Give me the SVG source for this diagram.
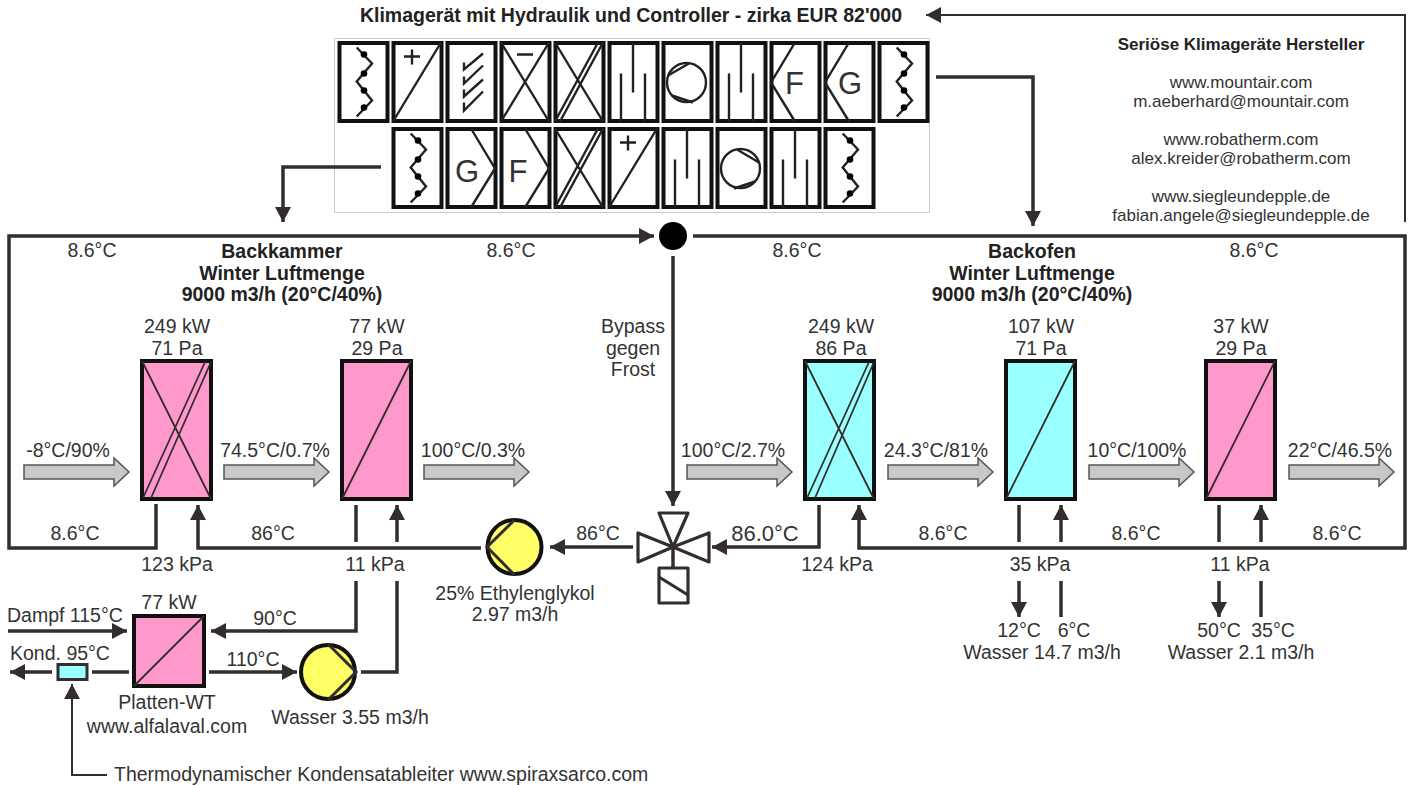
<svg xmlns="http://www.w3.org/2000/svg" xmlns:xlink="http://www.w3.org/1999/xlink" width="1413" height="785" viewBox="0 0 1413 785">
<style>
text{font-family:"Liberation Sans",Arial,sans-serif;font-size:19.5px;fill:#333;text-anchor:middle}
.b{font-weight:bold;fill:#222}
text.s{font-size:17px}
.l{text-anchor:start}
.cell{fill:#fff;stroke:#111;stroke-width:4}
.t{fill:none;stroke:#222;stroke-width:2.4}
text.big{font-size:31px;fill:#333}
text.w{font-size:22px}
.p{fill:none;stroke:#332e2b;stroke-width:3.5}
.thin{fill:none;stroke:#332e2b;stroke-width:2}
.hx{stroke:#111;stroke-width:4}
.pink{fill:#ff99cc}.cyan{fill:#99ffff}
.d{fill:none;stroke:#332e2b;stroke-width:1.8}
.air{fill:#c8c8c8;stroke:#555;stroke-width:1.5}
.pump{fill:#ffff66;stroke:#111;stroke-width:4}
.chev{fill:none;stroke:#332e2b;stroke-width:3}
.v{fill:#fff;stroke:#332e2b;stroke-width:3.2;stroke-linejoin:round}
</style>
<defs>
<marker id="a" markerUnits="userSpaceOnUse" markerWidth="16" markerHeight="16" refX="15" refY="8" orient="auto"><path d="M0 0L15 8L0 16Z" fill="#332e2b"/></marker>
<path id="air" d="M0-7H90V-14L105 0L90 14V7H0Z"/>
<g id="c"><rect class="cell" x="1.500" y="1.500" width="48" height="78"/></g>
<g id="zig"><use href="#c"/><path class="t" d="M18.700 6L34 22L18.700 40L34 59L18.700 75"/><circle cx="26" cy="13" r="3.300"/><circle cx="26" cy="32" r="3.300"/><circle cx="26" cy="49" r="3.300"/><circle cx="26" cy="66" r="3.300"/></g>
<g id="plus"><use href="#c"/><path class="t" d="M1 80L49 1M20 8V23M12 15H28"/></g>
<g id="filter"><use href="#c"/><path class="t" d="M18 21V28L37 12M18 35V42L37 24M18 48V55L37 38M18 61V69L37 50"/></g>
<g id="minus"><use href="#c"/><path class="t" d="M1 1L49 80M1 80L49 1M17 13H33"/></g>
<g id="xx"><use href="#c"/><path class="t" d="M1 1L49 80M1 80L44 1M6 80L49 1"/></g>
<g id="fin"><use href="#c"/><path class="t" d="M13 32V80M37 32V80M25 1V51"/></g>
<g id="pmp"><use href="#c"/><circle class="t" cx="24.500" cy="41" r="19.500"/><path class="t" d="M27 22L6 34M10 54L31 61"/></g>
<g id="pmp2"><use href="#c"/><circle class="t" cx="24.500" cy="41" r="19.500"/><path class="t" d="M21 22L43 35M39 54L18 61"/></g>
<g id="fl"><use href="#c"/><path class="t" d="M25 1L1 41L25 80"/></g>
<g id="fr"><use href="#c"/><path class="t" d="M25 1L49 41L25 80"/></g>
</defs>
<rect x="334.500" y="38.500" width="595" height="174" fill="#fff" stroke="#ccc"/>
<g id="ahu-top">
<use href="#zig" x="338" y="41.500"/><use href="#plus" x="392" y="41.500"/><use href="#filter" x="446" y="41.500"/><use href="#minus" x="500" y="41.500"/><use href="#xx" x="554" y="41.500"/><use href="#fin" x="608" y="41.500"/><use href="#pmp" x="662" y="41.500"/><use href="#fin" x="716" y="41.500"/><use href="#fl" x="770" y="41.500"/><use href="#fl" x="824" y="41.500"/><use href="#zig" x="878" y="41.500"/>
<text class="big" x="794.500" y="93.500">F</text><text class="big" x="850" y="93.500">G</text>
</g>
<g id="ahu-bottom">
<use href="#zig" x="392" y="127.500"/><use href="#fr" x="446" y="127.500"/><use href="#fr" x="500" y="127.500"/><use href="#xx" x="554" y="127.500"/><use href="#plus" x="608" y="127.500"/><use href="#fin" x="662" y="127.500"/><use href="#pmp2" x="716" y="127.500"/><use href="#fin" x="770" y="127.500"/><use href="#zig" x="824" y="127.500"/>
<text class="big" x="467" y="181.500">G</text><text class="big" x="518" y="181.500">F</text>
</g>
<g id="connectors">
<path class="thin" d="M1405 222V15H926" marker-end="url(#a)"/>
<path class="p" d="M936 77H1033V226" marker-end="url(#a)"/>
<path class="p" d="M381 167H283V222" marker-end="url(#a)"/>
<path class="p" d="M156 504V548H9V236H654" marker-end="url(#a)"/>
<path class="p" d="M693 236H1405V548H859V505" marker-end="url(#a)"/>
<path class="p" d="M673 256V506" marker-end="url(#a)"/>
<path class="p" d="M481 548H198V505" marker-end="url(#a)"/>
<path class="p" d="M633 547H550" marker-end="url(#a)"/>
<path class="p" d="M819 505V547H712" marker-end="url(#a)"/>
<path class="p" d="M356 505V542M1019 505V542M1219 505V542"/>
<path class="p" d="M397 542V505" marker-end="url(#a)"/>
<path class="p" d="M1061 542V505" marker-end="url(#a)"/>
<path class="p" d="M1261 542V505" marker-end="url(#a)"/>
<path class="p" d="M356 581V631H211" marker-end="url(#a)"/>
<path class="p" d="M397 581V672H361"/>
<path class="p" d="M8 631H127" marker-end="url(#a)"/>
<path class="p" d="M209 672H297" marker-end="url(#a)"/>
<path class="p" d="M129 672H92"/>
<path class="p" d="M52 672H10" marker-end="url(#a)"/>
<path class="thin" d="M107 775H72V684" marker-end="url(#a)"/>
<path class="p" d="M1019 581V617" marker-end="url(#a)"/>
<path class="p" d="M1219 581V617" marker-end="url(#a)"/>
<path class="p" d="M1061 581V617M1261 581V617"/>
</g>
<g id="junction"><circle cx="673" cy="236" r="14" fill="#000"/></g>
<g id="hx1"><rect class="hx pink" x="142" y="361" width="69" height="138"/><path class="d" d="M142 361L211 499M143 498L205 362M151 498L211 362"/></g>
<g id="hx2"><rect class="hx pink" x="342" y="361" width="69" height="138"/><path class="d" d="M342 499L411 361"/></g>
<g id="hx3"><rect class="hx cyan" x="805" y="361" width="69" height="138"/><path class="d" d="M805 361L874 499M807 498L869 362M815 498L874 362"/></g>
<g id="hx4"><rect class="hx cyan" x="1006" y="361" width="69" height="138"/><path class="d" d="M1006 499L1075 361"/></g>
<g id="hx5"><rect class="hx pink" x="1206" y="361" width="69" height="138"/><path class="d" d="M1206 499L1275 361"/></g>
<g id="plate"><rect class="hx pink" x="134" y="616" width="70" height="70"/><path class="d" d="M134 686L204 616"/></g>
<g id="trap"><rect x="58" y="664.500" width="29" height="15" fill="#99ffff" stroke="#332e2b" stroke-width="3"/></g>
<g id="pump1"><circle class="pump" cx="514.500" cy="547" r="27"/><path class="chev" d="M514.500 520L487 547L514.500 575"/></g>
<g id="pump2"><circle class="pump" cx="328" cy="672" r="27"/><path class="chev" d="M328 644L356 672L328 700"/></g>
<g id="valve"><path class="v" d="M659 513H688L673 547ZM638 533V562L673 547ZM709 533V562L673 547Z"/><path class="p" d="M673 547V568" stroke-width="3"/><rect class="v" x="659" y="568" width="29" height="35"/><path class="v" d="M659 577L688 595"/></g>
<g id="air-arrows" class="air"><use href="#air" x="24" y="472"/><use href="#air" x="224" y="472"/><use href="#air" x="424" y="472"/><use href="#air" x="687" y="472"/><use href="#air" x="888" y="472"/><use href="#air" x="1089" y="472"/><use href="#air" x="1289" y="472"/></g>
<g id="labels">
<text class="b" x="631" y="22">Klimagerät mit Hydraulik und Controller - zirka EUR 82'000</text>
<text class="b s" x="1241" y="50">Seriöse Klimageräte Hersteller</text>
<text class="s" x="1241" y="88">www.mountair.com</text><text class="s" x="1241" y="107">m.aeberhard@mountair.com</text>
<text class="s" x="1241" y="145">www.robatherm.com</text><text class="s" x="1241" y="164">alex.kreider@robatherm.com</text>
<text class="s" x="1241" y="202">www.siegleundepple.de</text><text class="s" x="1241" y="221">fabian.angele@siegleundepple.de</text>
<text x="92" y="257">8.6°C</text><text x="511" y="257">8.6°C</text><text x="797" y="257">8.6°C</text><text x="1254" y="257">8.6°C</text>
<text class="b" x="282" y="258">Backkammer</text><text class="b" x="282" y="280">Winter Luftmenge</text><text class="b" x="282" y="301">9000 m3/h (20°C/40%)</text>
<text class="b" x="1032" y="258">Backofen</text><text class="b" x="1032" y="280">Winter Luftmenge</text><text class="b" x="1032" y="301">9000 m3/h (20°C/40%)</text>
<text x="177" y="333">249 kW</text><text x="177" y="355">71 Pa</text>
<text x="377" y="333">77 kW</text><text x="377" y="355">29 Pa</text>
<text x="841" y="333">249 kW</text><text x="841" y="355">86 Pa</text>
<text x="1041" y="333">107 kW</text><text x="1041" y="355">71 Pa</text>
<text x="1241" y="333">37 kW</text><text x="1241" y="355">29 Pa</text>
<text x="633" y="333">Bypass</text><text x="633" y="355">gegen</text><text x="633" y="376">Frost</text>
<text x="68" y="457">-8°C/90%</text><text x="275" y="457">74.5°C/0.7%</text><text x="473" y="457">100°C/0.3%</text><text x="733" y="457">100°C/2.7%</text><text x="936" y="457">24.3°C/81%</text><text x="1137" y="457">10°C/100%</text><text x="1340" y="457">22°C/46.5%</text>
<text x="75" y="540">8.6°C</text><text x="273" y="540">86°C</text><text x="598" y="540">86°C</text><text class="w" x="765" y="541">86.0°C</text><text x="943" y="540">8.6°C</text><text x="1136" y="540">8.6°C</text><text x="1337" y="540">8.6°C</text>
<text x="177" y="571">123 kPa</text><text x="375" y="571">11 kPa</text><text x="837" y="571">124 kPa</text><text x="1040" y="571">35 kPa</text><text x="1240" y="571">11 kPa</text>
<text x="515" y="600">25% Ethylenglykol</text><text x="515" y="621">2.97 m3/h</text>
<text x="169" y="609">77 kW</text>
<text class="l" x="7" y="622">Dampf 115°C</text><text x="275" y="625">90°C</text>
<text class="l" x="10" y="660">Kond. 95°C</text><text x="253" y="666">110°C</text>
<text x="167" y="709">Platten-WT</text><text x="167" y="733">www.alfalaval.com</text>
<text x="350" y="724">Wasser 3.55 m3/h</text>
<text class="l" x="114" y="781">Thermodynamischer Kondensatableiter www.spiraxsarco.com</text>
<text x="1019" y="637">12°C</text><text x="1074" y="637">6°C</text><text x="1042" y="659">Wasser 14.7 m3/h</text>
<text x="1219" y="637">50°C</text><text x="1273" y="637">35°C</text><text x="1241" y="659">Wasser 2.1 m3/h</text>
</g>
</svg>
